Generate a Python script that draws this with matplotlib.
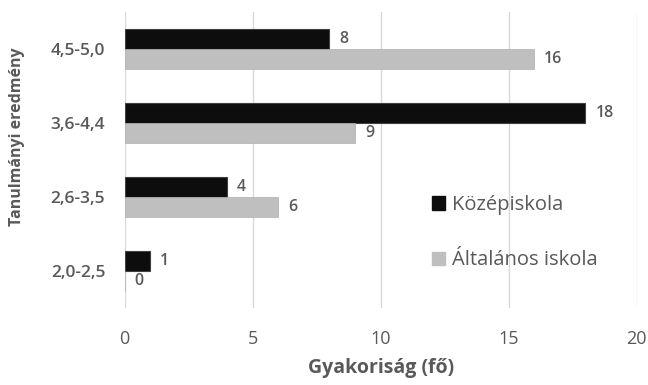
import matplotlib
matplotlib.use("Agg")
import matplotlib.pyplot as plt
import matplotlib.patches as mpatches
import numpy as np

plt.rcParams['font.family'] = ['Open Sans', 'DejaVu Sans']

# data
categories = ['2,0-2,5', '2,6-3,5', '3,6-4,4', '4,5-5,0']
kozepiskola = [1, 4, 18, 8]
altalanos = [0, 6, 9, 16]
xticks = [0, 5, 10, 15, 20]

black = '#0D0D0D'
grey = '#BFBFBF'
txt = '#595959'

fig = plt.figure(figsize=(6.48, 3.85), dpi=100)
ax = fig.add_axes([0.1924, 0.2, 0.79, 0.769])

y = np.arange(len(categories))
h = 0.265

# black bars sit above the grey ones inside each group
b1 = ax.barh(y + h / 2, kozepiskola, height=h, color=black, edgecolor='#404040', linewidth=0.8, zorder=3)
b2 = ax.barh(y - h / 2, altalanos, height=h, color=grey, edgecolor='#B0B0B0', linewidth=0.5, zorder=3)

for bars, vals in ((b1, kozepiskola), (b2, altalanos)):
    for bar, v in zip(bars, vals):
        ax.annotate(str(v), xy=(v, bar.get_y() + bar.get_height() / 2),
                    xytext=(10, 0), textcoords='offset pixels',
                    va='center', ha='left', fontsize=11.5, color=txt, fontweight='semibold')

ax.set_xlim(0, 20)
ax.set_ylim(-0.5, 3.5)
ax.set_xticks(xticks)
ax.set_yticks(y)
ax.set_yticklabels(categories, fontsize=12.5, color=txt, fontweight='semibold')
ax.tick_params(axis='x', labelsize=13, labelcolor=txt, length=0, pad=16)
ax.tick_params(axis='y', length=0, pad=14)

ax.grid(axis='x', color='#D9D9D9', linewidth=1, zorder=0)
for s in ax.spines.values():
    s.set_visible(False)

ax.set_xlabel('Gyakoriság (fő)', fontsize=14, color=txt, fontweight='bold', labelpad=7)
fig.text(17 / 648, 1 - 137 / 385, 'Tanulmányi eredmény', rotation=90,
         ha='center', va='center', fontsize=11.5, color=txt, fontweight='bold')

handles = [mpatches.Patch(color=black, label='Középiskola'),
           mpatches.Patch(color=grey, label='Általános iskola')]
ax.legend(handles=handles, loc='center left', bbox_to_anchor=(0.565, 0.254),
          frameon=False, fontsize=14.5, labelcolor=txt, handlelength=0.65,
          handleheight=0.65, handletextpad=0.35, labelspacing=1.75)

plt.savefig('out.png', dpi=100)
